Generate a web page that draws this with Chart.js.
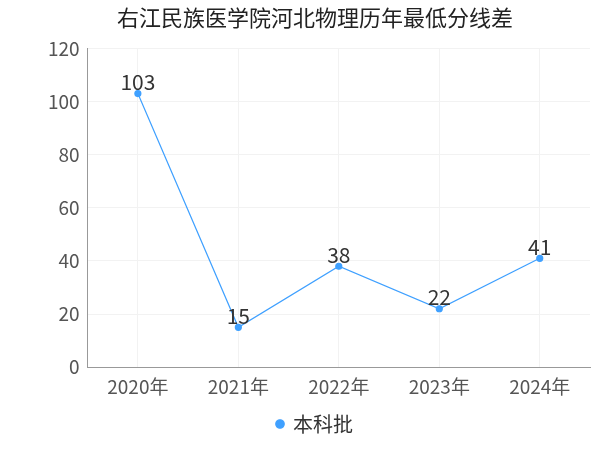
<!DOCTYPE html>
<html>
<head>
<meta charset="utf-8">
<script src="https://cdn.jsdelivr.net/npm/chart.js@4/dist/chart.umd.min.js"></script>
<style>
  body { margin: 0; background: #fff; }
  #wrap { width: 600px; height: 450px; }
</style>
</head>
<body>
<div id="wrap"><canvas id="c"></canvas></div>
<script>
const years = ["2020年", "2021年", "2022年", "2023年", "2024年"];
const scores = [103, 15, 38, 22, 41];
const seriesName = "本科批";

const FONT = "'Noto Sans CJK SC', 'Noto Sans', sans-serif";

// draw value above each point
const pointLabels = {
  id: "pointLabels",
  afterDatasetsDraw(chart) {
    const ctx = chart.ctx;
    const meta = chart.getDatasetMeta(0);
    ctx.save();
    ctx.font = "21px " + FONT;
    ctx.fillStyle = "#333";
    ctx.textAlign = "center";
    ctx.textBaseline = "bottom";
    meta.data.forEach((pt, i) => {
      ctx.fillText(scores[i], pt.x, pt.y - 1);
    });
    ctx.restore();
  }
};

new Chart(document.getElementById("c"), {
  type: "line",
  data: {
    labels: years,
    datasets: [{
      label: seriesName,
      data: scores,
      borderColor: "#3fa0ff",
      backgroundColor: "#3fa0ff",
      borderWidth: 1.2,
      pointRadius: 3,
      pointHoverRadius: 3,
      tension: 0
    }]
  },
  options: {
    responsive: true,
    maintainAspectRatio: false,
    animation: false,
    layout: { padding: { left: 40, right: 10, top: 0, bottom: 6 } },
    plugins: {
      title: {
        display: true,
        align: "center",
        text: "右江民族医学院河北物理历年最低分线差",
        font: { size: 22, family: FONT, weight: "normal" },
        color: "#222",
        padding: { top: 4, bottom: 18 }
      },
      legend: {
        position: "bottom",
        labels: {
          usePointStyle: true,
          pointStyle: "circle",
          boxWidth: 6,
          boxHeight: 6,
          font: { size: 20, family: FONT },
          color: "#333",
          padding: 8
        }
      },
      tooltip: { enabled: false }
    },
    scales: {
      x: {
        offset: true,
        grid: { color: "#f2f2f2", drawTicks: false },
        border: { color: "#999" },
        ticks: { font: { size: 19, family: FONT }, color: "#555", padding: 8 }
      },
      y: {
        min: 0,
        max: 120,
        ticks: { stepSize: 20, font: { size: 19, family: FONT }, color: "#555", padding: 8 },
        grid: { color: "#f2f2f2", drawTicks: false },
        border: { color: "#999" }
      }
    }
  },
  plugins: [pointLabels]
});
</script>
</body>
</html>
